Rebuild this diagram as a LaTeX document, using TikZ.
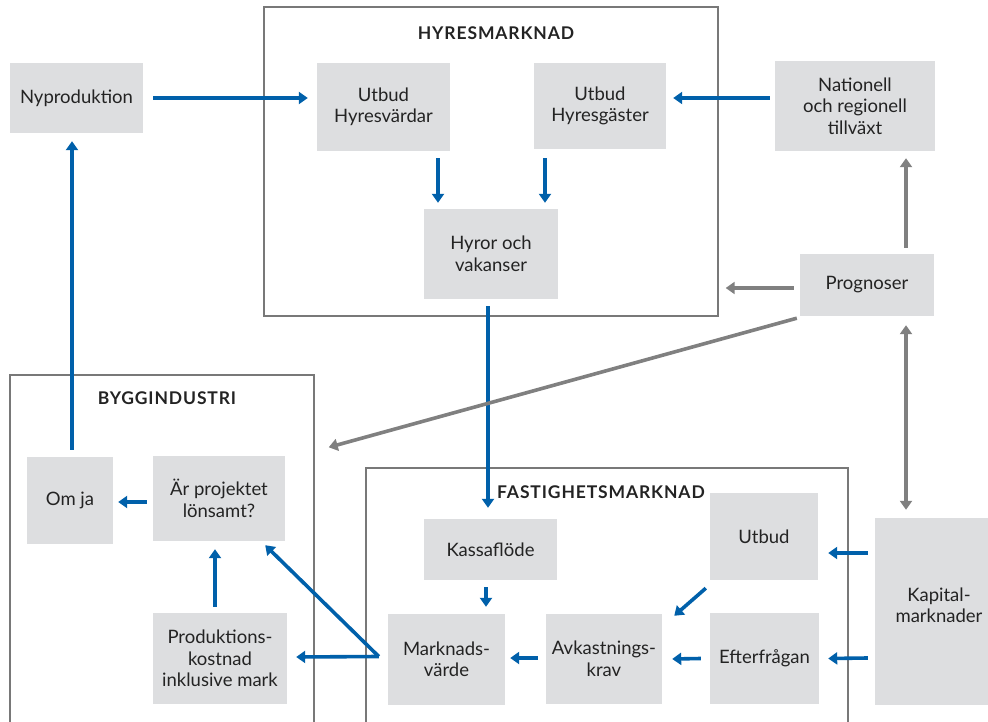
\documentclass[tikz,border=0pt]{standalone}
\usepackage{fontspec}
\setmainfont{Lato}
\newfontfamily\ttlfont[LetterSpace=5.0]{Lato}
\usetikzlibrary{arrows.meta,calc}
\definecolor{bl}{RGB}{0,96,170}
\definecolor{bx}{RGB}{221,222,224}
\definecolor{gr}{RGB}{128,128,128}
\definecolor{fr}{RGB}{120,120,120}
\definecolor{tx}{RGB}{35,35,35}
\begin{document}
\begin{tikzpicture}[x=1pt,y=-1pt,
  box/.style={fill=bx, draw=none, text=tx, align=center, inner sep=0pt,
    font=\fontsize{18.5}{21.5}\selectfont},
  frm/.style={draw=fr, line width=1.4pt, fill=none, inner sep=0pt},
  ttl/.style={text=tx, font=\ttlfont\bfseries\fontsize{17.5}{20}\selectfont, inner sep=0pt},
  barrow/.style={draw=bl, line width=3.6pt, -{Triangle[length=9pt,width=12pt]}},
  garrow/.style={draw=gr, line width=3.6pt, -{Triangle[length=9pt,width=12pt]}},
  gdarrow/.style={draw=gr, line width=3.6pt, {Triangle[length=9pt,width=12pt]}-{Triangle[length=9pt,width=12pt]}},
]
\useasboundingbox (0,0) rectangle (988,722);

% frames
\node[frm, minimum width=454pt, minimum height=309pt] (hyr) at (491,161.5) {};
\node[frm, minimum width=304pt, minimum height=365pt] (byg) at (162,557.5) {};
\node[frm, minimum width=482pt, minimum height=272pt] (fas) at (607,604) {};
\node[ttl] (thyr) at (496,33) {HYRESMARKNAD};
\node[ttl] (tbyg) at (167,398) {BYGGINDUSTRI};
\node[ttl] (tfas) at (601,492) {FASTIGHETSMARKNAD};

% boxes
\node[box, minimum width=133pt, minimum height=70pt] (nyp) at (76.5,98) {Nyproduktion};
\node[box, minimum width=133pt, minimum height=88pt] (uhv) at (383.5,107) {Utbud\\Hyresvärdar};
\node[box, minimum width=132pt, minimum height=86pt] (uhg) at (600,106) {Utbud\\Hyresgäster};
\node[box, minimum width=134pt, minimum height=90pt] (hyv) at (491,254) {Hyror och\\vakanser};
\node[box, minimum width=160pt, minimum height=90pt] (nat) at (855,106) {Nationell\\och regionell\\tillväxt};
\node[box, minimum width=134pt, minimum height=62pt] (pro) at (867,285) {Prognoser};
\node[box, minimum width=128pt, minimum height=187pt] (kap) at (939,611.5) {Kapital-\\marknader\\[-8.5pt]};
\node[box, minimum width=86pt, minimum height=87pt] (omja) at (70,500.5) {Om ja};
\node[box, minimum width=132pt, minimum height=85pt] (lons) at (219,498.5) {Är projektet\\lönsamt?};
\node[box, minimum width=134pt, minimum height=91pt] (prod) at (220,658.5) {Produktions-\\kostnad\\inklusive mark};
\node[box, minimum width=133pt, minimum height=61pt] (kass) at (490.5,549.5) {Kassaflöde};
\node[box, minimum width=108pt, minimum height=87pt] (utb) at (764,536.5) {Utbud};
\node[box, minimum width=117pt, minimum height=91pt] (mv) at (446.5,659.5) {Marknads-\\värde};
\node[box, minimum width=116pt, minimum height=90pt] (avk) at (604,659) {Avkastnings-\\krav};
\node[box, minimum width=109pt, minimum height=91pt] (eft) at (764.5,658.5) {Efterfrågan};

% blue connectors
\draw[barrow] ($(nyp.east)+(10,0)$) -- ($(uhv.west)+(-9,-9)$);
\draw[barrow] ($(nat.west)+(-5,-8)$) -- ($(uhg.east)+(7,-8)$);
\draw[barrow] ($(uhv.south)+(54.5,7)$) -- ($(hyv.north)+(-53,-6)$);
\draw[barrow] ($(uhg.south)+(-55,9)$) -- ($(hyv.north)+(54,-6)$);
\draw[barrow] ($(hyv.south)+(-3,7)$) -- ($(kass.north)+(-2.5,-11)$);
\draw[barrow] ($(omja.north)+(2,-7)$) -- ($(nyp.south)+(-4.5,8)$);
\draw[barrow] ($(lons.west)+(-6,3.5)$) -- ($(omja.east)+(5,1.5)$);
\draw[barrow] ($(prod.north)+(-5,-6)$) -- ($(lons.south)+(-4,8)$);
\draw[barrow] ($(mv.west)+(-9,-3)$) -- ($(lons.south east)+(-20,4)$);
\draw[barrow] ($(mv.west)+(-9,-3)$) -- ($(prod.east)+(9,-1.5)$);
\draw[barrow] ($(kass.south)+(-4.5,7)$) -- ($(mv.north)+(39.5,-7)$);
\draw[barrow] ($(avk.west)+(-8,-1)$) -- ($(mv.east)+(5,-1.5)$);
\draw[barrow] ($(eft.west)+(-9,0)$) -- ($(avk.east)+(10,0)$);
\draw[barrow] ($(utb.south west)+(-4,8)$) -- ($(avk.north east)+(12,2)$);
\draw[barrow] ($(kap.west)+(-7,-58.5)$) -- ($(utb.east)+(10,16.5)$);
\draw[barrow] ($(kap.west)+(-7,46.5)$) -- ($(eft.east)+(9,0)$);

% gray connectors
\draw[garrow] ($(pro.west)+(-6,3)$) -- ($(pro.west -| hyr.east)+(7,3)$);
\draw[garrow] ($(pro.north)+(39,-6)$) -- ($(nat.south)+(51,7)$);
\draw[garrow] ($(pro.south west)+(-3,2)$) -- ($(byg.north east)+(14,73)$);
\draw[gdarrow] ($(pro.south)+(39,9)$) -- ($(kap.north)+(-33,-8)$);
\end{tikzpicture}
\end{document}
